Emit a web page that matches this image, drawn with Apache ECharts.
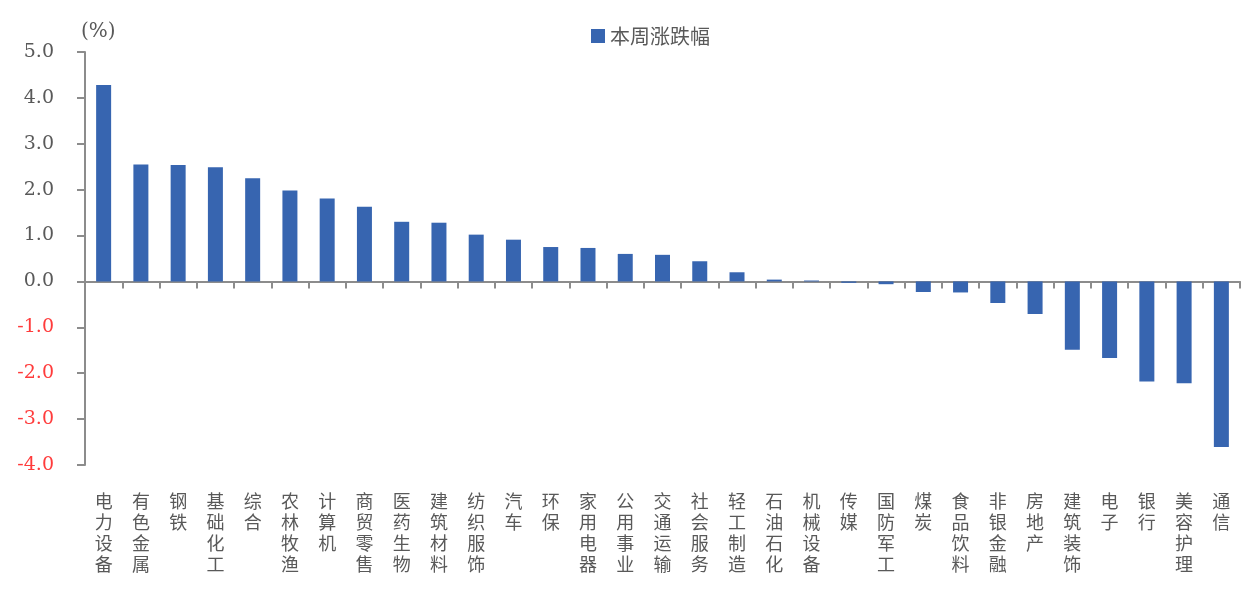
<!DOCTYPE html>
<html>
<head>
<meta charset="utf-8">
<script src="https://cdn.jsdelivr.net/npm/echarts@6/dist/echarts.min.js"></script>
<style>html,body{margin:0;padding:0;background:#fff}#c{width:1257px;height:591px}</style>
</head>
<body>
<div id="c"></div>
<script>
const categories = ['电力设备','有色金属','钢铁','基础化工','综合','农林牧渔','计算机','商贸零售','医药生物','建筑材料','纺织服饰','汽车','环保','家用电器','公用事业','交通运输','社会服务','轻工制造','石油石化','机械设备','传媒','国防军工','煤炭','食品饮料','非银金融','房地产','建筑装饰','电子','银行','美容护理','通信'];
const weeklyChange = [4.28,2.55,2.54,2.49,2.25,1.98,1.81,1.63,1.30,1.28,1.02,0.91,0.75,0.73,0.60,0.58,0.44,0.20,0.04,0.02,-0.03,-0.06,-0.23,-0.24,-0.47,-0.71,-1.49,-1.67,-2.18,-2.22,-3.61];
const seriesName = '本周涨跌幅';
const yUnit = '(%)';

const chart = echarts.init(document.getElementById('c'));
const axisColor = '#8c8c8c';
const textColor = '#595959';
chart.setOption({
  animation: false,
  legend: {
    data: [seriesName],
    left: 586, top: 21,
    itemWidth: 14, itemHeight: 14, itemGap: 7,
    icon: 'rect',
    textStyle: { fontFamily: 'Noto Sans CJK SC', fontSize: 20, color: textColor }
  },
  grid: { left: 85, right: 17, top: 52, bottom: 126, containLabel: false },
  xAxis: [{
    type: 'category', data: categories, position: 'bottom',
    axisLine: { show: false, onZero: false }, axisTick: { show: false },
    axisLabel: {
      interval: 0, margin: 26,
      fontFamily: 'Noto Sans CJK SC', fontSize: 18, lineHeight: 21, color: textColor,
      formatter: v => v.split('').join('\n')
    }
  }, {
    type: 'category', data: categories, position: 'bottom',
    axisLine: { show: true, onZero: true, lineStyle: { color: axisColor, width: 2 } },
    axisTick: { show: true, interval: 0, length: 7, lineStyle: { color: axisColor, width: 2 } },
    axisLabel: { show: false, interval: 0 }
  }],
  yAxis: {
    type: 'value', min: -4, max: 5, interval: 1, position: 'left',
    name: yUnit, nameLocation: 'end', nameGap: 10,
    nameTextStyle: { fontFamily: 'DejaVu Serif', fontSize: 20, color: textColor, align: 'left', padding: [0,0,0,-4] },
    splitLine: { show: false },
    axisLine: { show: true, onZero: false, lineStyle: { color: axisColor, width: 2 } },
    axisTick: { show: true, length: 8, lineStyle: { color: axisColor, width: 2 } },
    axisLabel: {
      margin: 31, fontFamily: 'DejaVu Serif', fontSize: 19,
      formatter: v => v < 0 ? '{n|' + v.toFixed(1) + '}' : '{p|' + v.toFixed(1) + '}',
      rich: {
        p: { color: textColor, fontFamily: 'DejaVu Serif', fontSize: 19 },
        n: { color: '#ff3b3b', fontFamily: 'DejaVu Serif', fontSize: 19 }
      }
    }
  },
  series: [{
    name: seriesName, type: 'bar', data: weeklyChange, xAxisIndex: 0,
    barWidth: 15,
    itemStyle: { color: '#3765b0' }
  }]
});
</script>
</body>
</html>
